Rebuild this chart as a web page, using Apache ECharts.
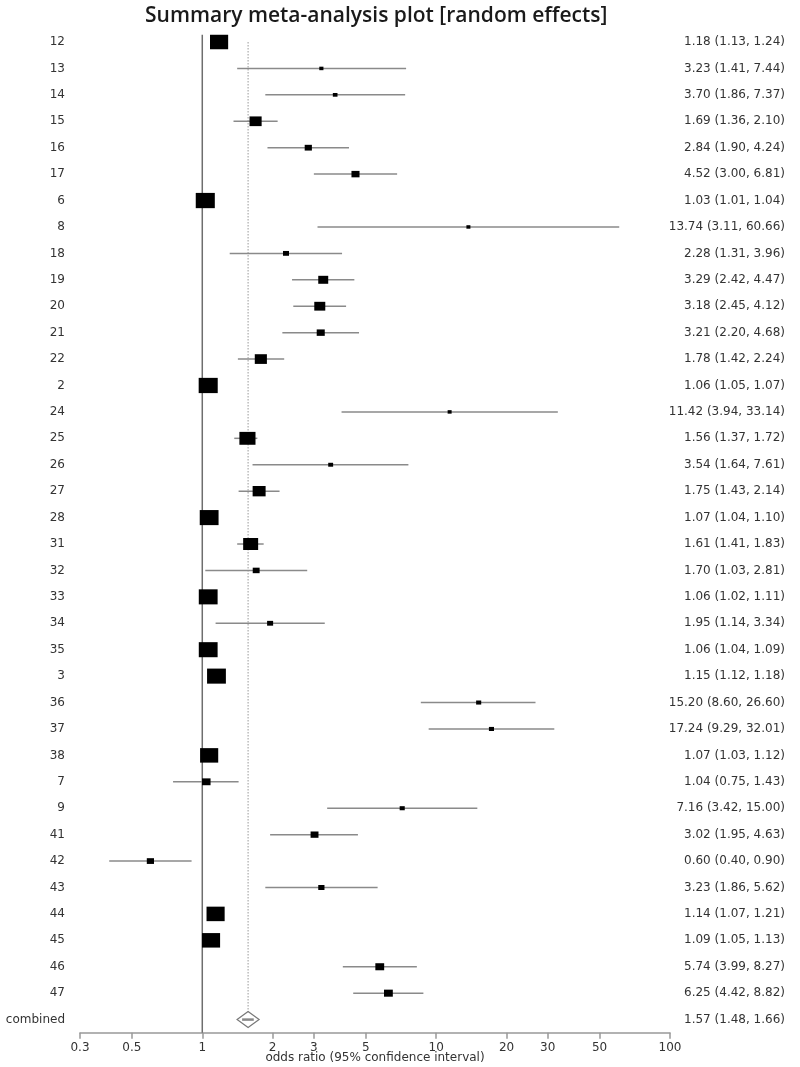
<!DOCTYPE html>
<html>
<head>
<meta charset="utf-8">
<script src="https://cdn.jsdelivr.net/npm/echarts@6/dist/echarts.min.js"></script>
<style>
  html, body { margin: 0; padding: 0; background: #fff; }
  #chart { width: 800px; height: 1067px; }
</style>
</head>
<body>
<div id="chart"></div>
<script>
// ---------- data ----------
const studies = ['12','13','14','15','16','17','6','8','18','19','20','21','22','2','24','25','26','27','28','31','32','33','34','35','3','36','37','38','7','9','41','42','43','44','45','46','47'];
const estimates = [1.18,3.23,3.70,1.69,2.84,4.52,1.03,13.74,2.28,3.29,3.18,3.21,1.78,1.06,11.42,1.56,3.54,1.75,1.07,1.61,1.70,1.06,1.95,1.06,1.15,15.20,17.24,1.07,1.04,7.16,3.02,0.60,3.23,1.14,1.09,5.74,6.25];
const lower = [1.13,1.41,1.86,1.36,1.90,3.00,1.01,3.11,1.31,2.42,2.45,2.20,1.42,1.05,3.94,1.37,1.64,1.43,1.04,1.41,1.03,1.02,1.14,1.04,1.12,8.60,9.29,1.03,0.75,3.42,1.95,0.40,1.86,1.07,1.05,3.99,4.42];
const upper = [1.24,7.44,7.37,2.10,4.24,6.81,1.04,60.66,3.96,4.47,4.12,4.68,2.24,1.07,33.14,1.72,7.61,2.14,1.10,1.83,2.81,1.11,3.34,1.09,1.18,26.60,32.01,1.12,1.43,15.00,4.63,0.90,5.62,1.21,1.13,8.27,8.82];
// relative study weights (box area proportional to weight)
const weights = [3.8,0.2,0.25,1.7,0.6,0.75,4.2,0.18,0.42,1.15,1.4,0.75,1.7,4.2,0.18,3.0,0.28,1.95,4.1,2.6,0.55,4.1,0.42,4.1,4.1,0.3,0.3,3.8,0.85,0.3,0.72,0.6,0.45,3.8,3.8,0.9,0.9];
const combinedLabel = 'combined';
const combinedValues = [1.57, 1.48, 1.66]; // estimate, lower, upper
const xTicks = [0.3,0.5,1,2,3,5,10,20,30,50,100];
const titleText = 'Summary meta-analysis plot [random effects]';
const xName = 'odds ratio (95% confidence interval)';

// ---------- derived ----------
const rowLabels = studies.concat([combinedLabel]);
const fmt = v => v.toFixed(2);
const rightLabels = estimates.map((e, i) => fmt(e) + ' (' + fmt(lower[i]) + ', ' + fmt(upper[i]) + ')')
  .concat([fmt(combinedValues[0]) + ' (' + fmt(combinedValues[1]) + ', ' + fmt(combinedValues[2]) + ')']);
const studyData = studies.map((s, i) => [i, estimates[i], lower[i], upper[i], weights[i]]);
const combinedIndex = studies.length;

const FONT = '"DejaVu Sans", "Open Sans", sans-serif';
const TITLE_FONT = '"Open Sans", Lato, sans-serif';
const LABEL_SIZE = 12;

const chart = echarts.init(document.getElementById('chart'), null, { renderer: 'canvas' });

const option = {
  backgroundColor: '#fff',
  animation: false,
  title: {
    text: titleText,
    left: 140,
    top: 1,
    textStyle: { fontFamily: TITLE_FONT, fontSize: 21, fontWeight: 600, color: '#1a1a1a' }
  },
  grid: { left: 80, right: 130, top: 28.8, bottom: 34.2, containLabel: false, outerBoundsMode: 'none' },
  xAxis: {
    type: 'log',
    logBase: 10,
    min: 0.3,
    max: 100,
    axisLine: { show: true, lineStyle: { color: '#999', width: 1.5 } },
    axisTick: { show: true, customValues: xTicks, length: 6, lineStyle: { color: '#999', width: 1.5 } },
    axisLabel: {
      customValues: xTicks,
      margin: 9,
      color: '#333',
      fontFamily: FONT,
      fontSize: LABEL_SIZE,
      formatter: v => String(v)
    },
    splitLine: { show: false },
    minorTick: { show: false },
    name: xName,
    nameLocation: 'middle',
    nameGap: 25,
    nameMoveOverlap: false,
    nameTextStyle: { color: '#333', fontFamily: FONT, fontSize: LABEL_SIZE, verticalAlign: 'middle' }
  },
  yAxis: [
    {
      type: 'category',
      data: rowLabels,
      inverse: true,
      position: 'left',
      axisLine: { show: false },
      axisTick: { show: false },
      splitLine: { show: false },
      axisLabel: { margin: 15, color: '#333', fontFamily: FONT, fontSize: LABEL_SIZE, interval: 0 }
    },
    {
      type: 'category',
      data: rightLabels,
      inverse: true,
      position: 'right',
      axisLine: { show: false },
      axisTick: { show: false },
      splitLine: { show: false },
      axisLabel: { margin: 115, align: 'right', color: '#333', fontFamily: FONT, fontSize: LABEL_SIZE, interval: 0 }
    }
  ],
  series: [
    {
      // reference lines (no effect at 1, pooled estimate dotted)
      type: 'custom',
      z: 1,
      silent: true,
      data: [[combinedIndex, combinedValues[0], combinedValues[1], combinedValues[2]]],
      encode: { x: [1, 2, 3], y: 0 },
      renderItem: function (params, api) {
        const cs = params.coordSys;
        const idx = api.value(0);
        const one = api.coord([1, 0]);
        const est = api.value(1);
        const topRow = api.coord([est, 0]);
        const diamond = api.coord([est, idx]);
        return {
          type: 'group',
          children: [
            { type: 'line', shape: { x1: one[0], y1: cs.y + 6, x2: one[0], y2: cs.y + cs.height },
              style: { stroke: '#6e6e6e', lineWidth: 1.5 } },
            { type: 'line', shape: { x1: topRow[0], y1: topRow[1], x2: diamond[0], y2: diamond[1] - 8 },
              style: { stroke: '#999', lineWidth: 1, lineDash: [1.5, 1.5] } }
          ]
        };
      }
    },
    {
      // individual studies
      type: 'custom',
      z: 3,
      data: studyData,
      encode: { x: [1, 2, 3], y: 0 },
      renderItem: function (params, api) {
        const idx = api.value(0);
        const pe = api.coord([api.value(1), idx]);
        const pl = api.coord([api.value(2), idx]);
        const ph = api.coord([api.value(3), idx]);
        const bw = Math.max(4, 9.3 * Math.sqrt(api.value(4)));
        const bh = Math.max(3.5, bw * 0.8);
        return {
          type: 'group',
          children: [
            { type: 'line', shape: { x1: pl[0], y1: pl[1], x2: ph[0], y2: ph[1] },
              style: { stroke: '#8a8a8a', lineWidth: 1.5 } },
            { type: 'rect', shape: { x: pe[0] - bw / 2, y: pe[1] - bh / 2, width: bw, height: bh },
              style: { fill: '#000' } }
          ]
        };
      }
    },
    {
      // combined diamond
      type: 'custom',
      z: 4,
      data: [[combinedIndex, combinedValues[0], combinedValues[1], combinedValues[2]]],
      encode: { x: [1, 2, 3], y: 0 },
      renderItem: function (params, api) {
        const idx = api.value(0);
        const pe = api.coord([api.value(1), idx]);
        const pl = api.coord([api.value(2), idx]);
        const ph = api.coord([api.value(3), idx]);
        const hw = 11, hh = 8;
        return {
          type: 'group',
          children: [
            { type: 'polygon', shape: { points: [[pe[0] - hw, pe[1]], [pe[0], pe[1] - hh], [pe[0] + hw, pe[1]], [pe[0], pe[1] + hh]] },
              style: { fill: '#fff', stroke: '#777', lineWidth: 1.2 } },
            { type: 'line', shape: { x1: pl[0], y1: pl[1], x2: ph[0], y2: ph[1] },
              style: { stroke: '#888', lineWidth: 2.5 } }
          ]
        };
      }
    }
  ]
};

chart.setOption(option);
</script>
</body>
</html>
